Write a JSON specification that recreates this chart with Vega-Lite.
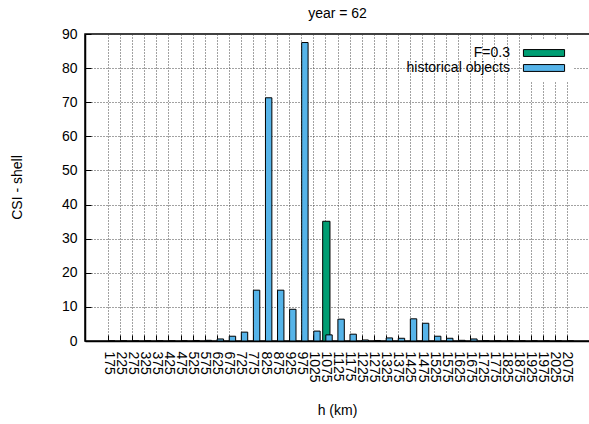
{
  "$schema": "https://vega.github.io/schema/vega-lite/v6.json",
  "autosize": "none",
  "width": 505,
  "height": 307,
  "padding": {"left": 85, "top": 34, "right": 0, "bottom": 83},
  "background": "white",
  "title": {"text": "year = 62", "anchor": "middle", "frame": "group", "baseline": "alphabetic", "offset": -5, "font": "Liberation Sans", "fontSize": 14, "fontWeight": "normal", "color": "black"},
  "config": {
    "view": {"stroke": "black", "strokeWidth": 1.5},
    "axis": {
      "labelFont": "Liberation Sans", "labelFontSize": 14, "labelColor": "black",
      "titleFont": "Liberation Sans", "titleFontSize": 14, "titleFontWeight": "normal", "titleColor": "black",
      "domainColor": "black", "domainWidth": 1.5,
      "tickColor": "black", "tickSize": -6, "tickWidth": 1,
      "grid": true, "gridColor": "#444", "gridDash": [1, 2], "gridWidth": 1, "gridOpacity": 1
    }
  },
  "datasets": {
    "bars": [
      {"h": 175, "value": 0, "series": "historical objects"},
      {"h": 225, "value": 0, "series": "historical objects"},
      {"h": 275, "value": 0, "series": "historical objects"},
      {"h": 325, "value": 0, "series": "historical objects"},
      {"h": 375, "value": 0, "series": "historical objects"},
      {"h": 425, "value": 0, "series": "historical objects"},
      {"h": 475, "value": 0, "series": "historical objects"},
      {"h": 525, "value": 0.15, "series": "historical objects"},
      {"h": 575, "value": 0.2, "series": "historical objects"},
      {"h": 625, "value": 0.6, "series": "historical objects"},
      {"h": 675, "value": 1.4, "series": "historical objects"},
      {"h": 725, "value": 2.6, "series": "historical objects"},
      {"h": 775, "value": 14.9, "series": "historical objects"},
      {"h": 825, "value": 71.3, "series": "historical objects"},
      {"h": 875, "value": 14.9, "series": "historical objects"},
      {"h": 925, "value": 9.3, "series": "historical objects"},
      {"h": 975, "value": 87.5, "series": "historical objects"},
      {"h": 1025, "value": 2.9, "series": "historical objects"},
      {"h": 1075, "value": 1.8, "series": "historical objects"},
      {"h": 1125, "value": 6.4, "series": "historical objects"},
      {"h": 1175, "value": 2.0, "series": "historical objects"},
      {"h": 1225, "value": 0.3, "series": "historical objects"},
      {"h": 1275, "value": 0.15, "series": "historical objects"},
      {"h": 1325, "value": 0.9, "series": "historical objects"},
      {"h": 1375, "value": 0.8, "series": "historical objects"},
      {"h": 1425, "value": 6.5, "series": "historical objects"},
      {"h": 1475, "value": 5.2, "series": "historical objects"},
      {"h": 1525, "value": 1.4, "series": "historical objects"},
      {"h": 1575, "value": 0.8, "series": "historical objects"},
      {"h": 1625, "value": 0.2, "series": "historical objects"},
      {"h": 1675, "value": 0.6, "series": "historical objects"},
      {"h": 1725, "value": 0.1, "series": "historical objects"},
      {"h": 1775, "value": 0, "series": "historical objects"},
      {"h": 1825, "value": 0, "series": "historical objects"},
      {"h": 1875, "value": 0, "series": "historical objects"},
      {"h": 1925, "value": 0, "series": "historical objects"},
      {"h": 1975, "value": 0, "series": "historical objects"},
      {"h": 2025, "value": 0, "series": "historical objects"},
      {"h": 2075, "value": 0, "series": "historical objects"},
      {"h": 1075, "value": 35.1, "series": "F=0.3"}
    ]
  },
  "data": {"name": "bars"},
  "encoding": {
    "x": {
      "field": "h", "type": "quantitative",
      "scale": {"domain": [100, 2150], "nice": false, "zero": false},
      "axis": {
        "title": "h (km)", "titleX": 252, "titleY": 69, "titleBaseline": "middle",
        "values": [175,225,275,325,375,425,475,525,575,625,675,725,775,825,875,925,975,1025,1075,1125,1175,1225,1275,1325,1375,1425,1475,1525,1575,1625,1675,1725,1775,1825,1875,1925,1975,2025,2075],
        "format": "d", "labelAngle": 90, "labelAlign": "left", "labelBaseline": "middle",
        "labelPadding": 16, "labelOverlap": false, "labelFlush": false
      }
    },
    "y": {
      "field": "value", "type": "quantitative",
      "scale": {"domain": [0, 90], "nice": false},
      "axis": {
        "title": "CSI - shell", "titleX": -68, "titleY": 153, "titleBaseline": "middle",
        "values": [0,10,20,30,40,50,60,70,80,90],
        "labelPadding": 14
      }
    },
    "color": {
      "field": "series", "type": "nominal",
      "scale": {"domain": ["F=0.3", "historical objects"], "range": ["#009E73", "#56B4E9"]},
      "legend": {
        "orient": "none", "legendX": 446, "legendY": 6, "title": null,
        "symbolType": "M-6,-1H6V1H-6Z", "symbolSize": 47,
        "symbolStrokeColor": "black", "symbolStrokeWidth": 1, "symbolOpacity": 1,
        "labelAlign": "right", "labelOffset": -41,
        "labelFont": "Liberation Sans", "labelFontSize": 14, "labelColor": "black",
        "fillColor": "white", "padding": 6, "rowPadding": 1
      }
    }
  },
  "layer": [
    {
      "transform": [{"filter": "datum.series === 'F=0.3'"}],
      "mark": {"type": "bar", "width": 7.3, "xOffset": 0.9, "stroke": "black", "strokeWidth": 1, "opacity": 1}
    },
    {
      "transform": [{"filter": "datum.series === 'historical objects'"}],
      "mark": {"type": "bar", "width": 6.4, "xOffset": 3.6, "stroke": "black", "strokeWidth": 1, "opacity": 1}
    }
  ]
}
